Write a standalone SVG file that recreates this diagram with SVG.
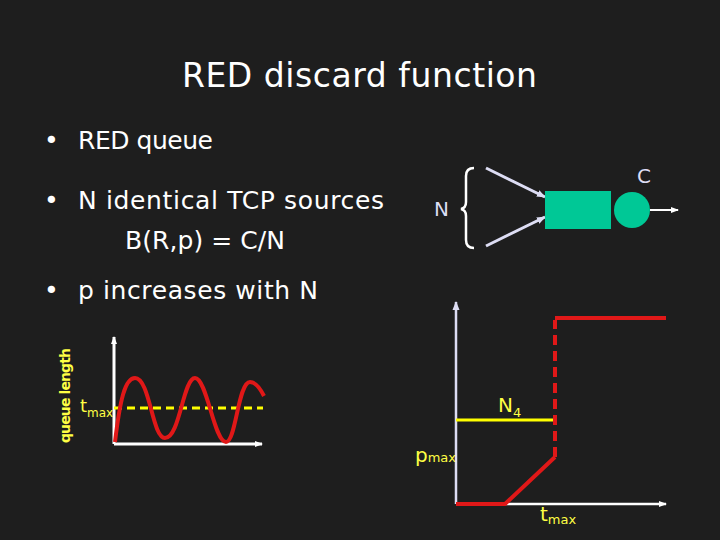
<svg xmlns="http://www.w3.org/2000/svg" width="720" height="540" viewBox="0 0 720 540">
<defs>
<style>
text{font-family:"DejaVu Sans","Liberation Sans",sans-serif}
.w{fill:#fff}.lb{fill:#ddddf4}.y{fill:#ffff44}
.red{stroke:#e01818;stroke-width:4;fill:none}
</style>
<marker id="aw" markerWidth="8" markerHeight="8" refX="7" refY="4" orient="auto" markerUnits="userSpaceOnUse"><path d="M0,1 L8,4 L0,7z" fill="#fff"/></marker>
<marker id="ab" markerWidth="9" markerHeight="9" refX="8" refY="4.5" orient="auto" markerUnits="userSpaceOnUse"><path d="M0,1 L9,4.5 L0,8z" fill="#ddddf4"/></marker>
</defs>
<rect width="720" height="540" fill="#1e1e1e"/>
<text x="182" y="87" textLength="355" font-size="33" class="w">RED discard function</text>
<g font-size="25" class="w">
<text x="44" y="149">•</text><text x="78" y="149" textLength="135">RED queue</text>
<text x="44" y="209">•</text><text x="78" y="209" textLength="306">N identical TCP sources</text>
<text x="125" y="249" textLength="160">B(R,p) = C/N</text>
<text x="44" y="299">•</text><text x="78" y="299" textLength="240">p increases with N</text>
</g>
<g id="queue">
<text x="434" y="216" font-size="20" class="lb">N</text>
<path d="M474,168 Q466,168 466,176 L466,202 Q466,208 461,209 Q466,210 466,216 L466,240 Q466,248 474,248" stroke="#fff" stroke-width="2.5" fill="none"/>
<line x1="486" y1="168" x2="545" y2="197" stroke="#ddddf4" stroke-width="3" marker-end="url(#ab)"/>
<line x1="486" y1="246" x2="545" y2="217" stroke="#ddddf4" stroke-width="3" marker-end="url(#ab)"/>
<rect x="545" y="191" width="66" height="38" fill="#00c896"/>
<circle cx="632" cy="210" r="18" fill="#00c896"/>
<line x1="650" y1="210" x2="678" y2="210" stroke="#fff" stroke-width="2" marker-end="url(#aw)"/>
<text x="637" y="183" font-size="20" class="lb">C</text>
</g>
<g id="left">
<text transform="translate(70,443) rotate(-90)" font-size="14" font-weight="bold" textLength="95" class="y">queue length</text>
<line x1="114" y1="444" x2="114" y2="337" stroke="#fff" stroke-width="3" marker-end="url(#aw)"/>
<line x1="114" y1="444" x2="262" y2="444" stroke="#fff" stroke-width="3" marker-end="url(#aw)"/>
<line x1="114" y1="408" x2="263" y2="408" stroke="#ffff00" stroke-width="3" stroke-dasharray="8,5"/>
<text x="80" y="412" font-size="18" class="y">t<tspan font-size="12" dy="5">max</tspan></text>
<path class="red" d="M115,442 C120,400 125,378 135,378 C150,378 152,438 165,438 C180,438 183,378 195,378 C207,378 214,442 226,442 C236,442 238,382 250,382 C256,382 261,390 264,396"/>
</g>
<g id="right">
<line x1="456" y1="504" x2="456" y2="302" stroke="#ddddf4" stroke-width="2.5" marker-end="url(#ab)"/>
<line x1="456" y1="504" x2="666" y2="504" stroke="#fff" stroke-width="2.5" marker-end="url(#aw)"/>
<line x1="456" y1="420" x2="555" y2="420" stroke="#ffff00" stroke-width="3"/>
<polyline class="red" points="456,504 505,504 555,457"/>
<line class="red" x1="555" y1="457" x2="555" y2="320" stroke-dasharray="10,6"/>
<polyline class="red" points="555,318 666,318"/>
<text x="498" y="412" font-size="20" class="y">N<tspan font-size="13" dy="5">4</tspan></text>
<text x="415" y="462" font-size="20" class="y">p<tspan font-size="13">max</tspan></text>
<text x="540" y="521" font-size="20" class="y">t<tspan font-size="13" dy="3">max</tspan></text>
</g>
</svg>
